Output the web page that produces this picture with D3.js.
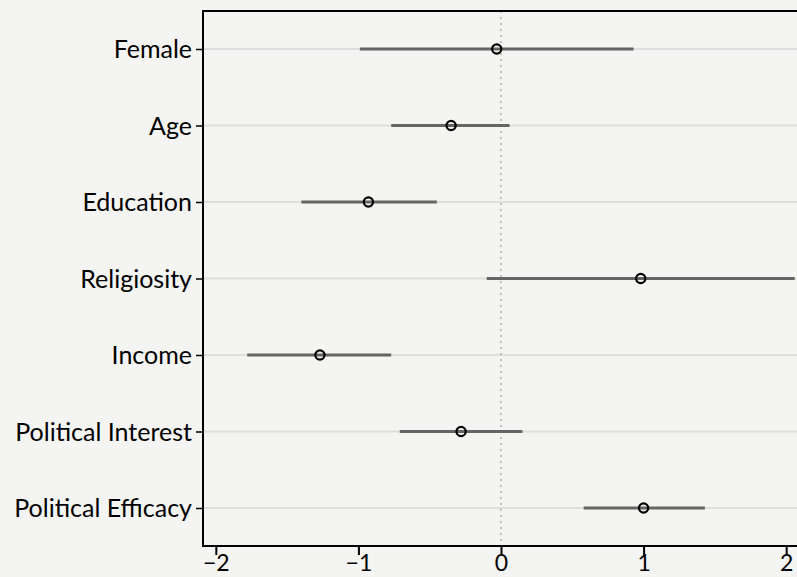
<!DOCTYPE html>
<html lang="en">
<head>
  <meta charset="utf-8">
  <title>Coefficient plot</title>
  <script src="https://d3js.org/d3.v7.min.js"></script>
  <style>
    body { margin: 0; background: #f4f4f2; }
    svg { display: block; }
    .lbl { font-family: Lato, sans-serif; }
  </style>
</head>
<body>
  <div id="chart"></div>

  <script>
    "use strict"

    // dados
    var variaveis = ["Female", "Age", "Education", "Religiosity", "Income", "Political Interest", "Political Efficacy"];
    var estimativas = [-0.03, -0.35, -0.93, 0.98, -1.27, -0.28, 1.00];
    var limiteInf = [-0.99, -0.77, -1.40, -0.10, -1.78, -0.71, 0.58];
    var limiteSup = [0.93, 0.06, -0.45, 2.06, -0.77, 0.15, 1.43];
    var ticksX = [-2, -1, 0, 1, 2];

    var largura = 797, altura = 577;

    var svg = d3.select('#chart')
      .append('svg')
        .attr('width', largura)
        .attr('height', altura);

    var x = d3.scaleLinear()
      .domain([-2.09, 2.09])
      .range([203, 799]);

    var y = d3.scalePoint()
      .domain(variaveis)
      .range([49, 508]);

    var topo = 11, base = 546;

    // linhas de grade horizontais
    svg.append('g').selectAll('line')
      .data(variaveis)
      .enter().append('line')
        .attr('x1', x.range()[0])
        .attr('x2', x.range()[1])
        .attr('y1', d => y(d))
        .attr('y2', d => y(d))
        .style('stroke', '#dedede')
        .style('stroke-width', 2);

    // linha do zero
    svg.append('line')
      .attr('x1', x(0)).attr('x2', x(0))
      .attr('y1', topo).attr('y2', base)
      .style('stroke', '#8a8a8a')
      .style('stroke-width', 1)
      .style('stroke-dasharray', '2,4');

    // intervalos
    svg.append('g').selectAll('line')
      .data(variaveis)
      .enter().append('line')
        .attr('x1', (d, i) => x(limiteInf[i]))
        .attr('x2', (d, i) => x(limiteSup[i]))
        .attr('y1', d => y(d))
        .attr('y2', d => y(d))
        .style('stroke', '#656565')
        .style('stroke-width', 2.8);

    // pontos
    svg.append('g').selectAll('circle')
      .data(variaveis)
      .enter().append('circle')
        .attr('cx', (d, i) => x(estimativas[i]))
        .attr('cy', d => y(d))
        .attr('r', 4.6)
        .style('fill', 'none')
        .style('stroke', '#000')
        .style('stroke-width', 2.2);

    // moldura: topo
    svg.append('line')
      .attr('x1', x.range()[0]).attr('x2', largura + 5)
      .attr('y1', topo).attr('y2', topo)
      .style('stroke', '#000').style('stroke-width', 2);

    // eixo y
    var eixoY = svg.append('g')
      .attr('transform', 'translate(' + x.range()[0] + ',0)')
      .call(d3.axisLeft(y).tickSize(7).tickPadding(4));
    eixoY.select('.domain').remove();
    eixoY.selectAll('line').style('stroke', '#000').style('stroke-width', 1.5);
    eixoY.selectAll('text')
      .attr('class', 'lbl')
      .style('font-size', '25px')
      .style('fill', '#000')
      .attr('dy', '0.35em');
    svg.append('line')
      .attr('x1', x.range()[0]).attr('x2', x.range()[0])
      .attr('y1', topo - 1).attr('y2', base + 1)
      .style('stroke', '#000').style('stroke-width', 2);

    // eixo x
    var eixoX = svg.append('g')
      .attr('transform', 'translate(0,' + base + ')')
      .call(d3.axisBottom(x).tickValues(ticksX).tickSize(9).tickPadding(0)
        .tickFormat(d => d < 0 ? '\u2212' + Math.abs(d) : d));
    eixoX.select('.domain').remove();
    eixoX.selectAll('line').style('stroke', '#000').style('stroke-width', 2);
    eixoX.selectAll('text')
      .attr('class', 'lbl')
      .style('font-size', '23px')
      .style('fill', '#000');
    svg.append('line')
      .attr('x1', x.range()[0] - 1).attr('x2', largura + 5)
      .attr('y1', base).attr('y2', base)
      .style('stroke', '#000').style('stroke-width', 2);
  </script>
</body>
</html>
